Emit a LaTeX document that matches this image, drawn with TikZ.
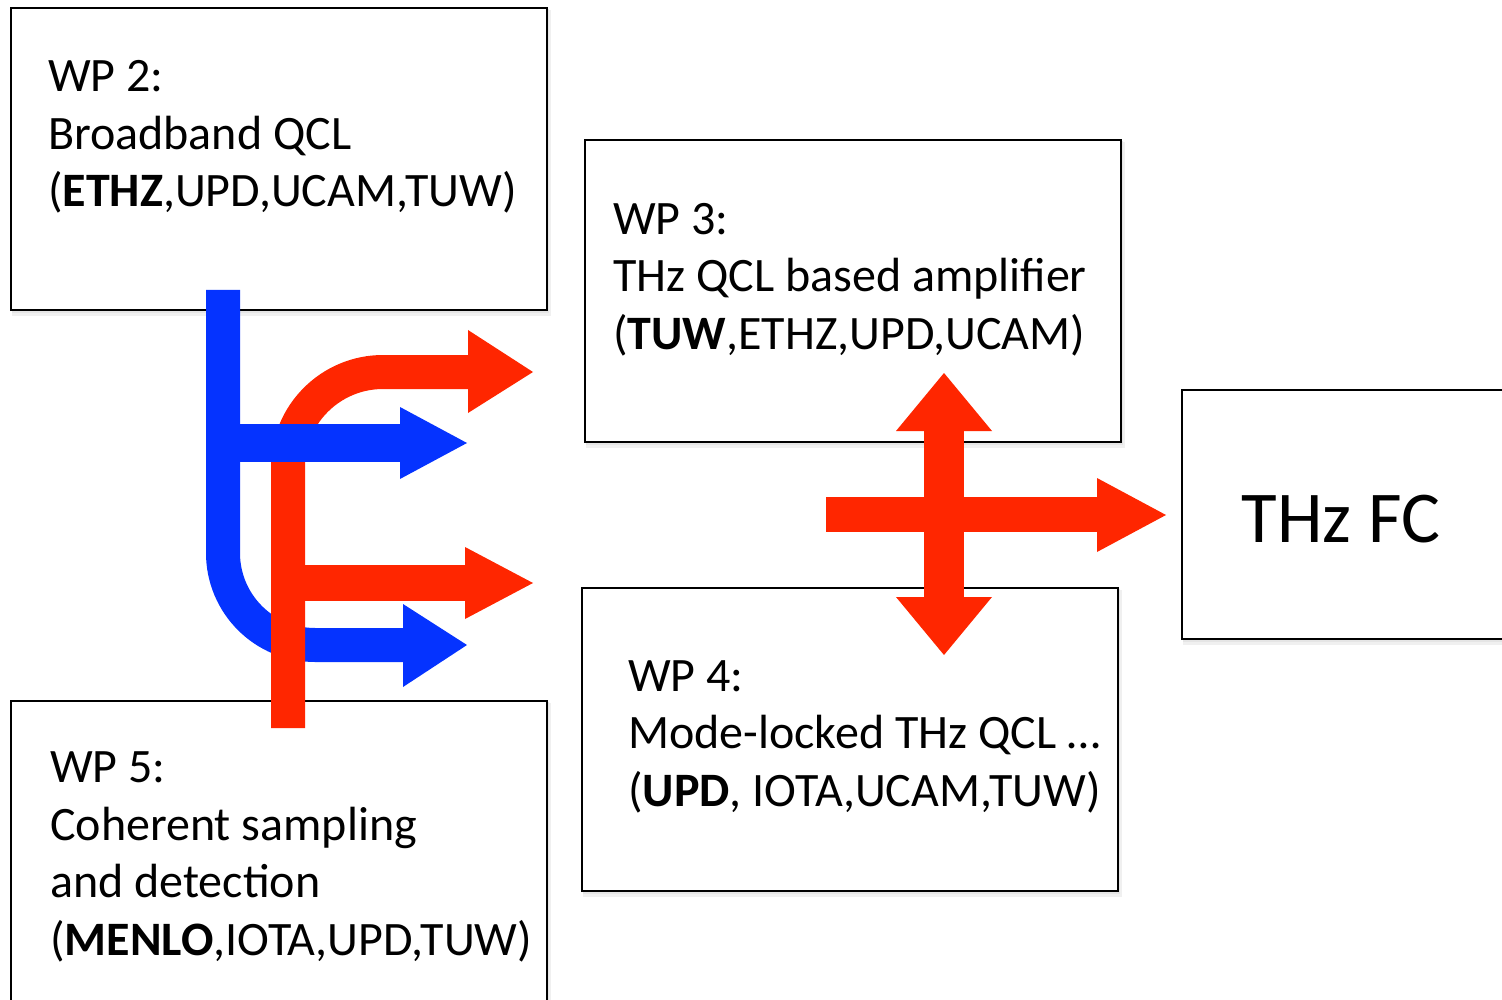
\documentclass[tikz,border=0pt]{standalone}
\usepackage{fontspec}
\setmainfont{Carlito}
\definecolor{arrblue}{RGB}{5,51,255}
\definecolor{arrred}{RGB}{255,38,0}
\tikzset{
  box/.style={draw=black, line width=1.8pt, fill=white, anchor=north west, inner sep=0pt},
  label/.style={anchor=base west, align=left, inner sep=0pt, font=\fontsize{48}{57.5}\selectfont},
  bigtxt/.style={anchor=base, inner sep=0pt, font=\fontsize{73}{80}\selectfont},
  bluebody/.style={draw=arrblue, line width=34pt, line cap=butt},
  redbody/.style={draw=arrred, line width=34pt, line cap=butt},
}
\begin{document}
\begin{tikzpicture}[x=1pt,y=-1pt]
\useasboundingbox (0,0) rectangle (1502,1000);
% shadows
\foreach \bx/\by/\bw/\bh in {10/7/536/302, 584/139/536/302, 1181/389/340/249, 581/587/536/303, 10/700/536/320}{
  \fill[black!6] (\bx+2,\by+3) rectangle (\bx+\bw+5,\by+\bh+7);
  \fill[black!10] (\bx+2,\by+2) rectangle (\bx+\bw+3,\by+\bh+4);
}
% boxes
\node[box, minimum width=536pt, minimum height=302pt] (wp2) at (10,7) {};
\node[box, minimum width=536pt, minimum height=302pt] (wp3) at (584,139) {};
\node[box, minimum width=340pt, minimum height=249pt] (fc) at (1181,389) {};
\node[box, minimum width=536pt, minimum height=303pt] (wp4) at (581,587) {};
\node[box, minimum width=536pt, minimum height=320pt] (wp5) at (10,700) {};
% texts (anchored at the baseline of the last line)
\node[label] (wp2t) at (48,207) {WP 2:\\Broadband QCL\\(\textbf{ETHZ},UPD,UCAM,TUW)};
\node[label] (wp3t) at (613,349) {WP 3:\\THz QCL based amplifier\\(\textbf{TUW},ETHZ,UPD,UCAM)};
\node[label] (wp4t) at (628,806) {WP 4:\\Mode-locked THz QCL …\\(\textbf{UPD}, IOTA,UCAM,TUW)};
\node[label] (wp5t) at (50,955) {WP 5:\\Coherent sampling\\and detection\\(\textbf{MENLO},IOTA,UPD,TUW)};
\node[bigtxt] (fct) at (1341,542) {THz FC};
% blue curved arrow
\coordinate (bstart) at (223,290);
\coordinate (bend2) at (404,645);
\draw[bluebody, rounded corners=92pt] (bstart) |- (bend2);
\fill[arrblue] (403,604) -- (467,645) -- (403,687) -- cycle;
% red curved arrow
\coordinate (rstart) at (288,728);
\coordinate (rend1) at (469,372);
\draw[redbody, rounded corners=95pt] (rstart) |- (rend1);
\fill[arrred] (468,330) -- (533,372) -- (468,413) -- cycle;
% red branch 2
\fill[arrred] (288,565) rectangle (466,601);
\fill[arrred] (465,547) -- (533,583) -- (465,619) -- cycle;
% blue branch 1
\fill[arrblue] (206,424) rectangle (401,462);
\fill[arrblue] (400,407) -- (467,443) -- (400,479) -- cycle;
% red cross
\fill[arrred] (826,497) rectangle (1098,532);
\fill[arrred] (1097,478) -- (1166,515) -- (1097,552) -- cycle;
\fill[arrred] (924,430) rectangle (964,598);
\fill[arrred] (896,431) -- (944,373) -- (992,431) -- cycle;
\fill[arrred] (896,597) -- (944,655) -- (992,597) -- cycle;
\end{tikzpicture}
\end{document}
